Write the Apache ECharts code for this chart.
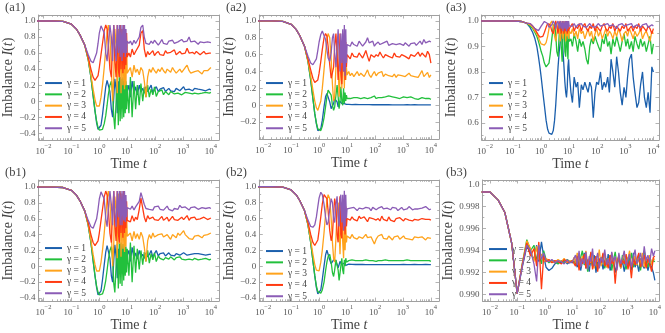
<!DOCTYPE html>
<html>
<head>
<meta charset="utf-8">
<script src="https://cdn.jsdelivr.net/npm/echarts@6/dist/echarts.min.js"></script>
<style>
html, body { margin: 0; padding: 0; background: #fff; }
#chart { width: 665px; height: 333px; }
</style>
</head>
<body>
<div id="chart"></div>
<script>
// legend names and colours, gamma = 1..5
const gammaNames = ['γ = 1', 'γ = 2', 'γ = 3', 'γ = 4', 'γ = 5'];
const lineColors = ['#1b5fac', '#22c03c', '#ffa31c', '#ff3b12', '#8b5cb6'];

// axis tick labels
const xTicks = [0.01, 0.1, 1, 10, 100, 1000, 10000];
const yTicksWide = [-0.4, -0.2, 0, 0.2, 0.4, 0.6, 0.8, 1.0];
const yTicksA2 = [-0.2, 0, 0.2, 0.4, 0.6, 0.8, 1.0];
const yTicksA3 = [0.6, 0.7, 0.8, 0.9, 1.0];
const yTicksB3 = [0.990, 0.992, 0.994, 0.996, 0.998, 1.0];

// time grids
const tMain = [0.005, 0.02, 0.05, 0.1, 0.15, 0.2, 0.3,
  0.4, 0.5, 0.6, 0.7, 0.8, 0.9, 1.0, 1.15, 1.3, 1.5, 1.7, 1.9, 2.1, 2.4, 2.7, 3.0,
  3.3, 3.6, 4.0, 4.4, 4.8, 5.2, 5.6, 6.0, 6.5, 7.0, 7.5, 8.0, 8.5, 9.0, 9.5, 10];
const tLate = [11.5, 13, 15, 17.5, 20, 23, 27, 31, 36, 41, 47, 54, 62, 72, 83, 95, 110,
  130, 150, 175, 200, 235, 270, 310, 360, 420, 490, 570, 660, 770, 900, 1050, 1200,
  1400, 1650, 1900, 2200, 2600, 3000, 3500, 4100, 4800, 5600, 6500, 7600, 8800, 10000];
const tB3 = [0.005, 0.01, 0.02, 0.035, 0.062, 0.098,
  0.15, 0.22, 0.3, 0.4, 0.5, 0.6, 0.75, 0.9, 1.1, 1.4, 1.8, 2.3, 3, 4, 5, 6.5, 8, 10];

// ---- (a1) ----
const a1g1 = [1.0, 1.0, 0.995, 0.96, 0.9, 0.83, 0.7,
  0.52, 0.3, 0.07, -0.12, -0.27, -0.35, -0.37, -0.3, -0.17, 0.02, 0.18, 0.26,
  0.27, 0.12, -0.1, -0.2, 0.05, 0.28, 0.15, -0.15, 0.25, -0.1, 0.3, -0.05,
  0.28, 0.0, 0.25, 0.05, 0.22, 0.05, 0.2, 0.12,
  0.2, 0.05, 0.25, 0.1, 0.18, 0.08, 0.2, 0.12, 0.16, 0.1,
  0.18, 0.12, 0.14, 0.2, 0.1, 0.15, 0.18, 0.12, 0.15, 0.13,
  0.17, 0.12, 0.14, 0.16, 0.13, 0.15, 0.12, 0.16, 0.14, 0.13,
  0.15, 0.18, 0.14, 0.12, 0.15, 0.14, 0.13, 0.16, 0.14, 0.15,
  0.13, 0.14, 0.15, 0.13, 0.14, 0.15, 0.14];
const a1g2 = [1.0, 1.0, 0.995, 0.96, 0.9, 0.83, 0.7,
  0.52, 0.3, 0.07, -0.12, -0.25, -0.33, -0.36, -0.37, -0.35, -0.28, -0.18, -0.05,
  0.08, 0.2, 0.25, 0.1, -0.2, -0.35, 0.0, 0.28, -0.3, 0.3, -0.25, 0.28,
  -0.22, 0.3, -0.2, 0.28, -0.15, 0.25, -0.1, 0.2,
  -0.15, 0.3, -0.2, 0.25, -0.1, 0.2, -0.05, 0.22, 0.0, 0.18,
  0.05, 0.2, 0.05, 0.15, 0.08, 0.18, 0.06, 0.12, 0.1, 0.14,
  0.08, 0.12, 0.1, 0.08, 0.12, 0.1, 0.09, 0.11, 0.1, 0.12,
  0.08, 0.1, 0.11, 0.09, 0.1, 0.12, 0.09, 0.1, 0.11, 0.09,
  0.1, 0.1, 0.09, 0.11, 0.1, 0.1, 0.11];
const a1g3 = [1.0, 1.0, 0.995, 0.96, 0.9, 0.83, 0.7,
  0.53, 0.33, 0.15, 0.02, -0.06, -0.08, -0.06, 0.05, 0.2, 0.42, 0.65, 0.85,
  0.95, 0.8, 0.4, 0.0, 0.3, 0.9, 0.7, 0.1, 0.9, 0.3, 0.95, 0.1,
  0.9, 0.2, 0.9, 0.15, 0.85, 0.2, 0.75, 0.35,
  0.35, 0.42, 0.3, 0.45, 0.36, 0.4, 0.33, 0.42, 0.38, 0.25,
  0.05, 0.3, 0.4, 0.36, 0.42, 0.38, 0.35, 0.4, 0.37, 0.42,
  0.38, 0.35, 0.4, 0.38, 0.36, 0.42, 0.38, 0.35, 0.37, 0.4,
  0.36, 0.38, 0.42, 0.45, 0.38, 0.35, 0.33, 0.37, 0.35, 0.38,
  0.36, 0.34, 0.38, 0.36, 0.38, 0.37, 0.42];
const a1g4 = [1.0, 1.0, 0.995, 0.96, 0.9, 0.83, 0.7,
  0.55, 0.4, 0.3, 0.26, 0.26, 0.32, 0.42, 0.58, 0.72, 0.88, 0.95, 0.9,
  0.7, 0.4, 0.3, 0.7, 0.95, 0.5, 0.3, 0.95, 0.4, 0.3, 0.95, 0.4,
  0.9, 0.35, 0.95, 0.4, 0.9, 0.45, 0.85, 0.55,
  0.6, 0.55, 0.65, 0.58, 0.62, 0.6, 0.7, 0.85, 0.88, 0.65,
  0.55, 0.62, 0.58, 0.6, 0.63, 0.57, 0.6, 0.62, 0.58, 0.6,
  0.57, 0.63, 0.6, 0.58, 0.61, 0.6, 0.64, 0.58, 0.6, 0.62,
  0.59, 0.57, 0.6, 0.66, 0.6, 0.58, 0.61, 0.59, 0.62, 0.6,
  0.58, 0.6, 0.62, 0.59, 0.61, 0.6, 0.6];
const a1g5 = [1.0, 1.0, 0.995, 0.96, 0.9, 0.83, 0.7,
  0.58, 0.5, 0.48, 0.5, 0.6, 0.72, 0.85, 0.94, 0.95, 0.85, 0.6, 0.5,
  0.7, 0.95, 0.8, 0.5, 0.95, 0.7, 0.5, 0.95, 0.6, 0.95, 0.55, 0.95,
  0.5, 0.95, 0.6, 0.95, 0.55, 0.9, 0.6, 0.75,
  0.72, 0.75, 0.7, 0.76, 0.72, 0.74, 0.8, 0.92, 0.95, 0.8,
  0.72, 0.74, 0.71, 0.75, 0.72, 0.76, 0.74, 0.7, 0.73, 0.77,
  0.72, 0.74, 0.71, 0.75, 0.73, 0.76, 0.72, 0.7, 0.74, 0.73,
  0.77, 0.74, 0.72, 0.75, 0.8, 0.74, 0.72, 0.75, 0.73, 0.71,
  0.74, 0.72, 0.73, 0.71, 0.74, 0.72, 0.73];

// ---- (a2) ----
const a2g1 = [1.0, 1.0, 0.995, 0.96, 0.9, 0.83, 0.7,
  0.52, 0.3, 0.08, -0.1, -0.22, -0.3, -0.32, -0.28, -0.18, -0.02, 0.1, 0.14,
  0.12, 0.04, -0.04, -0.05, 0.02, 0.08, 0.1, 0.04, -0.02, 0.0, 0.05, 0.06,
  0.02, 0.0, 0.03, 0.02, 0.0, 0.02, 0.01, 0.01,
  0.01, 0.012, 0.008, 0.01, 0.009, 0.01, 0.008, 0.01, 0.007, 0.009,
  0.008, 0.008, 0.007, 0.008, 0.006, 0.007, 0.008, 0.006, 0.007, 0.006,
  0.007, 0.006, 0.005, 0.006, 0.007, 0.005, 0.006, 0.005, 0.006, 0.005,
  0.006, 0.005, 0.005, 0.006, 0.005, 0.004, 0.005, 0.006, 0.005, 0.004,
  0.005, 0.004, 0.005, 0.005, 0.004, 0.005, 0.005];
const a2g2 = [1.0, 1.0, 0.995, 0.96, 0.9, 0.83, 0.7,
  0.52, 0.3, 0.08, -0.1, -0.21, -0.28, -0.3, -0.3, -0.25, -0.15, -0.02, 0.1,
  0.18, 0.2, 0.12, 0.0, -0.06, -0.02, 0.12, 0.24, 0.1, -0.04, 0.05, 0.22,
  0.05, 0.0, 0.2, 0.02, 0.15, 0.05, 0.12, 0.08,
  0.1, 0.08, 0.1, 0.09, 0.11, 0.09, 0.1, 0.08, 0.1, 0.09,
  0.1, 0.08, 0.1, 0.09, 0.1, 0.11, 0.08, 0.09, 0.1, 0.09,
  0.08, 0.1, 0.09, 0.11, 0.09, 0.1, 0.08, 0.09, 0.1, 0.08,
  0.09, 0.1, 0.08, 0.09, 0.08, 0.1, 0.09, 0.08, 0.09, 0.07,
  0.08, 0.09, 0.07, 0.08, 0.07, 0.08, 0.07];
const a2g3 = [1.0, 1.0, 0.995, 0.96, 0.9, 0.83, 0.7,
  0.53, 0.35, 0.18, 0.05, -0.03, -0.06, -0.05, 0.05, 0.2, 0.42, 0.62, 0.78,
  0.85, 0.8, 0.55, 0.25, 0.05, 0.1, 0.45, 0.75, 0.5, 0.1, 0.3, 0.7,
  0.2, 0.5, 0.65, 0.2, 0.55, 0.3, 0.45, 0.36,
  0.4, 0.35, 0.38, 0.34, 0.37, 0.4, 0.35, 0.38, 0.36, 0.34,
  0.38, 0.42, 0.36, 0.33, 0.37, 0.4, 0.35, 0.38, 0.36, 0.4,
  0.34, 0.37, 0.39, 0.35, 0.36, 0.34, 0.37, 0.33, 0.36, 0.38,
  0.35, 0.37, 0.34, 0.36, 0.38, 0.35, 0.37, 0.34, 0.36, 0.33,
  0.37, 0.41, 0.34, 0.36, 0.39, 0.33, 0.36];
const a2g4 = [1.0, 1.0, 0.995, 0.96, 0.9, 0.83, 0.7,
  0.55, 0.42, 0.32, 0.27, 0.26, 0.3, 0.38, 0.52, 0.66, 0.8, 0.85, 0.82,
  0.7, 0.48, 0.32, 0.3, 0.45, 0.7, 0.85, 0.6, 0.3, 0.5, 0.85, 0.4,
  0.25, 0.8, 0.4, 0.85, 0.3, 0.75, 0.45, 0.6,
  0.6, 0.55, 0.62, 0.58, 0.6, 0.57, 0.62, 0.59, 0.56, 0.6,
  0.65, 0.58, 0.52, 0.6, 0.62, 0.57, 0.6, 0.58, 0.63, 0.59,
  0.56, 0.6, 0.62, 0.58, 0.6, 0.56, 0.62, 0.58, 0.6, 0.57,
  0.6, 0.62, 0.58, 0.6, 0.55, 0.6, 0.62, 0.58, 0.6, 0.63,
  0.58, 0.62, 0.6, 0.57, 0.64, 0.6, 0.5];
const a2g5 = [1.0, 1.0, 0.995, 0.96, 0.9, 0.83, 0.7,
  0.58, 0.5, 0.48, 0.49, 0.55, 0.65, 0.75, 0.84, 0.88, 0.86, 0.78, 0.66,
  0.56, 0.52, 0.62, 0.8, 0.85, 0.62, 0.45, 0.7, 0.9, 0.6, 0.4, 0.85,
  0.5, 0.9, 0.4, 0.95, 0.35, 0.9, 0.5, 0.72,
  0.72, 0.7, 0.75, 0.72, 0.74, 0.7, 0.76, 0.73, 0.7, 0.72,
  0.75, 0.8, 0.74, 0.72, 0.76, 0.7, 0.73, 0.75, 0.72, 0.7,
  0.74, 0.73, 0.76, 0.71, 0.7, 0.73, 0.75, 0.72, 0.7, 0.73,
  0.72, 0.71, 0.74, 0.72, 0.7, 0.73, 0.72, 0.74, 0.71, 0.73,
  0.76, 0.72, 0.78, 0.74, 0.72, 0.76, 0.75];

// ---- (a3) ----
const a3g1 = [1.0, 1.0, 1.0, 1.0, 0.999, 0.998, 0.992,
  0.975, 0.955, 0.93, 0.9, 0.86, 0.82, 0.78, 0.72, 0.67, 0.61, 0.575, 0.56,
  0.555, 0.555, 0.57, 0.61, 0.67, 0.74, 0.82, 0.88, 0.92, 0.95, 0.93, 0.88,
  0.82, 0.76, 0.72, 0.7, 0.74, 0.82, 0.85, 0.8,
  0.72, 0.68, 0.78, 0.74, 0.76, 0.66, 0.75, 0.73, 0.76, 0.74,
  0.72, 0.76, 0.74, 0.62, 0.72, 0.76, 0.75, 0.8, 0.73, 0.76,
  0.74, 0.78, 0.72, 0.85, 0.8, 0.74, 0.86, 0.8, 0.72, 0.67,
  0.74, 0.7, 0.78, 0.85, 0.87, 0.78, 0.72, 0.66, 0.68, 0.75,
  0.8, 0.7, 0.66, 0.72, 0.64, 0.82, 0.8];
const a3g2 = [1.0, 1.0, 1.0, 1.0, 0.999, 0.998, 0.992,
  0.98, 0.97, 0.955, 0.94, 0.92, 0.9, 0.88, 0.86, 0.835, 0.82, 0.82, 0.835,
  0.87, 0.93, 0.98, 0.99, 0.95, 0.88, 0.86, 0.95, 0.99, 0.9, 0.84, 0.95,
  0.99, 0.88, 0.86, 0.98, 0.9, 0.85, 0.97, 0.92,
  0.93, 0.9, 0.95, 0.92, 0.88, 0.93, 0.9, 0.92, 0.89, 0.85,
  0.83, 0.9, 0.93, 0.91, 0.94, 0.92, 0.9, 0.88, 0.93, 0.91,
  0.95, 0.9, 0.92, 0.87, 0.93, 0.9, 0.94, 0.91, 0.88, 0.92,
  0.95, 0.9, 0.93, 0.89, 0.92, 0.88, 0.94, 0.91, 0.89, 0.93,
  0.9, 0.92, 0.88, 0.91, 0.94, 0.87, 0.91];
const a3g3 = [1.0, 1.0, 1.0, 1.0, 0.999, 0.998, 0.992,
  0.985, 0.975, 0.96, 0.95, 0.935, 0.92, 0.91, 0.905, 0.905, 0.915, 0.94, 0.97,
  0.99, 1.0, 0.98, 0.94, 0.92, 0.95, 0.99, 0.97, 0.92, 0.96, 1.0, 0.93,
  0.97, 1.0, 0.92, 0.99, 0.94, 1.0, 0.93, 0.96,
  0.95, 0.97, 0.94, 0.96, 0.93, 0.97, 0.95, 0.96, 0.93, 0.95,
  0.97, 0.94, 0.96, 0.92, 0.95, 0.97, 0.94, 0.96, 0.93, 0.95,
  0.97, 0.94, 0.96, 0.95, 0.93, 0.96, 0.94, 0.97, 0.95, 0.92,
  0.95, 0.96, 0.94, 0.97, 0.95, 0.93, 0.96, 0.94, 0.95, 0.97,
  0.93, 0.95, 0.96, 0.94, 0.92, 0.96, 0.95];
const a3g4 = [1.0, 1.0, 1.0, 1.0, 0.999, 0.998, 0.992,
  0.99, 0.98, 0.97, 0.955, 0.945, 0.937, 0.935, 0.94, 0.955, 0.975, 0.99, 0.995,
  0.985, 0.96, 0.95, 0.975, 1.0, 0.98, 0.95, 0.99, 1.0, 0.95, 0.98, 1.0,
  0.95, 0.99, 0.96, 1.0, 0.95, 0.99, 0.96, 0.97,
  0.97, 0.99, 0.96, 0.98, 0.97, 0.99, 0.96, 0.98, 0.99, 0.97,
  0.96, 0.98, 0.97, 0.99, 0.96, 0.98, 0.97, 0.96, 0.98, 0.99,
  0.97, 0.96, 0.98, 0.97, 0.99, 0.96, 0.98, 0.97, 0.96, 0.98,
  0.97, 0.99, 0.96, 0.97, 0.98, 0.96, 0.98, 0.97, 0.99, 0.96,
  0.98, 0.97, 0.96, 0.98, 0.97, 0.95, 0.97];
const a3g5 = [1.0, 1.0, 1.0, 1.0, 0.999, 0.998, 0.992,
  0.99, 0.98, 0.97, 0.963, 0.962, 0.968, 0.98, 0.99, 0.998, 1.0, 0.99, 0.975,
  0.97, 0.985, 1.0, 0.99, 0.97, 0.99, 1.0, 0.97, 1.0, 0.97, 1.0, 0.96,
  1.0, 0.97, 1.0, 0.96, 1.0, 0.97, 1.0, 0.98,
  0.985, 0.98, 0.99, 0.975, 0.985, 0.98, 0.99, 0.98, 0.985, 0.975,
  0.98, 0.99, 0.98, 0.985, 0.975, 0.98, 0.99, 0.98, 0.975, 0.985,
  0.98, 0.99, 0.98, 0.975, 0.985, 0.98, 0.97, 0.985, 0.98, 0.99,
  0.98, 0.975, 0.985, 0.98, 0.99, 0.975, 0.98, 0.985, 0.98, 0.975,
  0.985, 0.98, 0.99, 0.975, 0.98, 0.985, 0.98];

// ---- (b1) ----
const b1g1 = [1.0, 1.0, 0.995, 0.96, 0.9, 0.83, 0.7,
  0.52, 0.3, 0.07, -0.12, -0.27, -0.36, -0.38, -0.31, -0.17, 0.02, 0.18, 0.26,
  0.26, 0.1, -0.12, -0.2, 0.08, 0.27, 0.12, -0.15, 0.22, -0.08, 0.28, -0.02,
  0.26, 0.02, 0.22, 0.06, 0.2, 0.08, 0.18, 0.14,
  0.2, 0.06, 0.24, 0.1, 0.17, 0.09, 0.2, 0.12, 0.15, 0.1,
  0.17, 0.12, 0.15, 0.2, 0.11, 0.16, 0.2, 0.13, 0.16, 0.14,
  0.17, 0.13, 0.15, 0.17, 0.14, 0.16, 0.13, 0.16, 0.15, 0.14,
  0.16, 0.17, 0.15, 0.14, 0.16, 0.15, 0.14, 0.16, 0.15, 0.16,
  0.14, 0.15, 0.16, 0.14, 0.15, 0.15, 0.15];
const b1g2 = [1.0, 1.0, 0.995, 0.96, 0.9, 0.83, 0.7,
  0.52, 0.3, 0.07, -0.12, -0.25, -0.33, -0.36, -0.37, -0.35, -0.28, -0.18, -0.05,
  0.08, 0.2, 0.25, 0.08, -0.22, -0.33, 0.02, 0.28, -0.28, 0.3, -0.22, 0.3,
  -0.25, 0.28, -0.18, 0.3, -0.12, 0.25, -0.08, 0.22,
  -0.12, 0.3, -0.2, 0.26, -0.08, 0.22, -0.04, 0.2, 0.02, 0.18,
  0.06, 0.2, 0.04, 0.16, 0.08, 0.17, 0.06, 0.13, 0.1, 0.12,
  0.08, 0.11, 0.1, 0.09, 0.12, 0.1, 0.08, 0.11, 0.1, 0.12,
  0.09, 0.1, 0.08, 0.1, 0.09, 0.11, 0.08, 0.1, 0.09, 0.08,
  0.1, 0.09, 0.08, 0.1, 0.09, 0.08, 0.09];
const b1g3 = [1.0, 1.0, 0.995, 0.96, 0.9, 0.83, 0.7,
  0.53, 0.33, 0.15, 0.02, -0.06, -0.08, -0.06, 0.05, 0.2, 0.42, 0.65, 0.85,
  0.95, 0.82, 0.42, 0.0, 0.28, 0.88, 0.72, 0.1, 0.92, 0.28, 0.95, 0.12,
  0.88, 0.22, 0.9, 0.18, 0.82, 0.25, 0.72, 0.38,
  0.36, 0.42, 0.32, 0.44, 0.35, 0.41, 0.34, 0.43, 0.37, 0.24,
  0.06, 0.32, 0.4, 0.35, 0.42, 0.37, 0.36, 0.4, 0.38, 0.41,
  0.37, 0.35, 0.4, 0.37, 0.34, 0.4, 0.38, 0.36, 0.42, 0.39,
  0.37, 0.45, 0.4, 0.38, 0.35, 0.37, 0.34, 0.38, 0.36, 0.39,
  0.37, 0.36, 0.39, 0.38, 0.4, 0.41, 0.42];
const b1g4 = [1.0, 1.0, 0.995, 0.96, 0.9, 0.83, 0.7,
  0.55, 0.4, 0.3, 0.26, 0.26, 0.32, 0.42, 0.58, 0.72, 0.88, 0.95, 0.9,
  0.72, 0.42, 0.3, 0.68, 0.95, 0.52, 0.32, 0.95, 0.42, 0.3, 0.93, 0.42,
  0.92, 0.36, 0.95, 0.42, 0.88, 0.48, 0.82, 0.58,
  0.6, 0.56, 0.64, 0.57, 0.62, 0.59, 0.72, 0.86, 0.88, 0.62,
  0.56, 0.64, 0.6, 0.58, 0.62, 0.59, 0.61, 0.58, 0.6, 0.63,
  0.58, 0.6, 0.62, 0.57, 0.6, 0.63, 0.59, 0.61, 0.58, 0.6,
  0.62, 0.59, 0.6, 0.64, 0.58, 0.61, 0.6, 0.62, 0.59, 0.61,
  0.6, 0.58, 0.62, 0.6, 0.59, 0.61, 0.61];
const b1g5 = [1.0, 1.0, 0.995, 0.96, 0.9, 0.83, 0.7,
  0.58, 0.5, 0.48, 0.5, 0.6, 0.72, 0.85, 0.94, 0.95, 0.85, 0.6, 0.5,
  0.72, 0.95, 0.78, 0.52, 0.95, 0.68, 0.5, 0.95, 0.62, 0.95, 0.52, 0.95,
  0.52, 0.95, 0.58, 0.95, 0.56, 0.9, 0.62, 0.74,
  0.74, 0.72, 0.76, 0.71, 0.75, 0.73, 0.82, 0.93, 0.94, 0.78,
  0.73, 0.75, 0.72, 0.74, 0.71, 0.75, 0.73, 0.76, 0.72, 0.74,
  0.71, 0.73, 0.76, 0.72, 0.74, 0.7, 0.73, 0.75, 0.72, 0.77,
  0.74, 0.72, 0.75, 0.73, 0.71, 0.74, 0.72, 0.75, 0.73, 0.72,
  0.7, 0.74, 0.72, 0.73, 0.71, 0.74, 0.73];

// ---- (b2) ----
const b2g1 = [1.0, 1.0, 0.995, 0.96, 0.9, 0.83, 0.7,
  0.52, 0.3, 0.07, -0.12, -0.27, -0.35, -0.36, -0.3, -0.17, 0.0, 0.14, 0.2,
  0.18, 0.08, 0.03, 0.04, 0.08, 0.1, 0.07, 0.02, -0.02, 0.02, 0.06, 0.05,
  0.02, 0.0, 0.03, 0.04, 0.02, 0.01, 0.02, 0.02,
  0.025, 0.02, 0.022, 0.02, 0.021, 0.02, 0.022, 0.02, 0.021, 0.02,
  0.02, 0.021, 0.02, 0.019, 0.02, 0.021, 0.02, 0.02, 0.019, 0.02,
  0.021, 0.02, 0.02, 0.019, 0.02, 0.02, 0.021, 0.02, 0.019, 0.02,
  0.02, 0.021, 0.02, 0.02, 0.019, 0.02, 0.02, 0.021, 0.02, 0.02,
  0.019, 0.02, 0.02, 0.021, 0.02, 0.02, 0.02];
const b2g2 = [1.0, 1.0, 0.995, 0.96, 0.9, 0.83, 0.7,
  0.52, 0.3, 0.07, -0.12, -0.25, -0.32, -0.34, -0.34, -0.3, -0.2, -0.06, 0.05,
  0.12, 0.15, 0.05, -0.08, -0.13, -0.05, 0.08, 0.1, -0.05, -0.18, -0.2, 0.0,
  0.1, -0.05, -0.1, 0.08, 0.0, 0.1, 0.05, 0.07,
  0.07, 0.06, 0.08, 0.06, 0.07, 0.06, 0.07, 0.05, 0.07, 0.06,
  0.08, 0.06, 0.07, 0.06, 0.07, 0.08, 0.06, 0.07, 0.06, 0.07,
  0.06, 0.08, 0.06, 0.07, 0.06, 0.07, 0.05, 0.07, 0.06, 0.07,
  0.06, 0.07, 0.06, 0.08, 0.06, 0.07, 0.06, 0.07, 0.06, 0.07,
  0.06, 0.07, 0.06, 0.07, 0.06, 0.07, 0.06];
const b2g3 = [1.0, 1.0, 0.995, 0.96, 0.9, 0.83, 0.7,
  0.53, 0.33, 0.15, 0.02, -0.05, -0.07, -0.06, 0.05, 0.2, 0.42, 0.65, 0.82,
  0.9, 0.85, 0.6, 0.3, 0.1, 0.05, 0.35, 0.7, 0.8, 0.45, 0.15, 0.5,
  0.8, 0.3, 0.1, 0.6, 0.2, 0.5, 0.3, 0.38,
  0.38, 0.35, 0.4, 0.36, 0.38, 0.34, 0.37, 0.39, 0.35, 0.37,
  0.4, 0.36, 0.34, 0.37, 0.35, 0.28, 0.34, 0.38, 0.36, 0.4,
  0.35, 0.37, 0.34, 0.38, 0.36, 0.33, 0.37, 0.35, 0.38, 0.34,
  0.36, 0.38, 0.35, 0.37, 0.34, 0.36, 0.33, 0.37, 0.35, 0.36,
  0.34, 0.37, 0.35, 0.33, 0.36, 0.34, 0.35];
const b2g4 = [1.0, 1.0, 0.995, 0.96, 0.9, 0.83, 0.7,
  0.55, 0.4, 0.3, 0.26, 0.27, 0.33, 0.45, 0.62, 0.78, 0.9, 0.92, 0.85,
  0.7, 0.45, 0.32, 0.4, 0.65, 0.85, 0.75, 0.4, 0.3, 0.7, 0.88, 0.4,
  0.35, 0.85, 0.45, 0.8, 0.4, 0.75, 0.5, 0.6,
  0.6, 0.58, 0.62, 0.59, 0.6, 0.57, 0.63, 0.6, 0.58, 0.62,
  0.6, 0.56, 0.61, 0.59, 0.6, 0.62, 0.58, 0.6, 0.57, 0.63,
  0.59, 0.6, 0.57, 0.62, 0.58, 0.6, 0.56, 0.6, 0.58, 0.61,
  0.59, 0.57, 0.6, 0.62, 0.58, 0.6, 0.57, 0.59, 0.6, 0.58,
  0.57, 0.6, 0.58, 0.59, 0.57, 0.59, 0.58];
const b2g5 = [1.0, 1.0, 0.995, 0.96, 0.9, 0.83, 0.7,
  0.58, 0.5, 0.49, 0.52, 0.62, 0.75, 0.86, 0.93, 0.9, 0.78, 0.62, 0.52,
  0.55, 0.72, 0.85, 0.8, 0.6, 0.55, 0.78, 0.88, 0.62, 0.5, 0.82, 0.9,
  0.55, 0.9, 0.45, 0.95, 0.5, 0.9, 0.6, 0.72,
  0.72, 0.73, 0.71, 0.74, 0.72, 0.7, 0.73, 0.75, 0.72, 0.71,
  0.74, 0.72, 0.73, 0.7, 0.74, 0.72, 0.71, 0.73, 0.72, 0.75,
  0.72, 0.7, 0.73, 0.72, 0.71, 0.74, 0.72, 0.73, 0.7, 0.72,
  0.74, 0.71, 0.73, 0.72, 0.75, 0.73, 0.71, 0.72, 0.74, 0.72,
  0.71, 0.73, 0.72, 0.75, 0.73, 0.71, 0.72];

// ---- (b3) ----
const b3g1 = [0.99934, 0.99934, 0.9986, 0.99747, 0.99468, 0.9901,
  0.9925, 0.9944, 0.9938, 0.9932, 0.9945, 0.9930, 0.9948, 0.9935, 0.9925,
  0.9922, 0.9924, 0.9928, 0.9930, 0.9929, 0.9931, 0.9928, 0.9930, 0.9929,
  0.9928, 0.9931, 0.9925, 0.9935, 0.9922, 0.9930, 0.9938, 0.9924, 0.9929, 0.9921,
  0.9933, 0.9926, 0.9936, 0.9920, 0.9930, 0.9927, 0.9934, 0.9923, 0.9931, 0.9925,
  0.9937, 0.9922, 0.9929, 0.9933, 0.9920, 0.9928, 0.9935, 0.9924, 0.9931, 0.9921,
  0.9930, 0.9926, 0.9934, 0.9922, 0.9938, 0.9925, 0.9930, 0.9921, 0.9933, 0.9927,
  0.9924, 0.9932, 0.9922, 0.9929, 0.9925, 0.9920, 0.9913];
const b3g2 = [0.99934, 0.99934, 0.9986, 0.99747, 0.99468, 0.9901,
  0.9928, 0.9950, 0.9940, 0.9945, 0.9932, 0.9938, 0.9928, 0.9940, 0.9932,
  0.9929, 0.9931, 0.9930, 0.9928, 0.9931, 0.9929, 0.9932, 0.9930, 0.9931,
  0.9932, 0.9928, 0.9936, 0.9925, 0.9934, 0.9940, 0.9927, 0.9933, 0.9921, 0.9931,
  0.9938, 0.9926, 0.9930, 0.9935, 0.9923, 0.9932, 0.9928, 0.9937, 0.9924, 0.9933,
  0.9929, 0.9936, 0.9922, 0.9931, 0.9939, 0.9927, 0.9933, 0.9925, 0.9936, 0.9930,
  0.9923, 0.9934, 0.9928, 0.9938, 0.9925, 0.9931, 0.9927, 0.9936, 0.9922, 0.9933,
  0.9940, 0.9929, 0.9925, 0.9935, 0.9928, 0.9931, 0.9930];
const b3g3 = [0.99934, 0.99934, 0.9986, 0.99747, 0.99468, 0.9901,
  0.9928, 0.9949, 0.9942, 0.9930, 0.9944, 0.9932, 0.9937, 0.9930, 0.9933,
  0.9931, 0.9930, 0.9929, 0.9932, 0.9930, 0.9933, 0.9929, 0.9931, 0.9930,
  0.9934, 0.9929, 0.9938, 0.9931, 0.9926, 0.9935, 0.9930, 0.9940, 0.9927, 0.9933,
  0.9929, 0.9936, 0.9924, 0.9934, 0.9930, 0.9941, 0.9926, 0.9932, 0.9937, 0.9925,
  0.9933, 0.9929, 0.9938, 0.9927, 0.9934, 0.9930, 0.9936, 0.9924, 0.9932, 0.9937,
  0.9928, 0.9933, 0.9940, 0.9926, 0.9931, 0.9935, 0.9927, 0.9933, 0.9929, 0.9938,
  0.9925, 0.9934, 0.9929, 0.9936, 0.9927, 0.9933, 0.9932];
const b3g4 = [0.99934, 0.99934, 0.9986, 0.99747, 0.99468, 0.9901,
  0.9927, 0.9947, 0.9935, 0.9942, 0.9926, 0.9948, 0.9905, 0.9935, 0.9930,
  0.9932, 0.9929, 0.9931, 0.9930, 0.9928, 0.9932, 0.9930, 0.9929, 0.9931,
  0.9931, 0.9926, 0.9935, 0.9922, 0.9933, 0.9928, 0.9937, 0.9924, 0.9932, 0.9927,
  0.9939, 0.9923, 0.9930, 0.9935, 0.9921, 0.9933, 0.9929, 0.9938, 0.9926, 0.9931,
  0.9924, 0.9936, 0.9928, 0.9933, 0.9910, 0.9930, 0.9935, 0.9925, 0.9932, 0.9928,
  0.9937, 0.9923, 0.9931, 0.9915, 0.9934, 0.9927, 0.9932, 0.9938, 0.9925, 0.9930,
  0.9936, 0.9924, 0.9933, 0.9928, 0.9921, 0.9934, 0.9935];
const b3g5 = [0.99934, 0.99934, 0.9986, 0.99747, 0.99468, 0.9901,
  0.9926, 0.9945, 0.9940, 0.9928, 0.9912, 0.9945, 0.9932, 0.9938, 0.9931,
  0.9930, 0.9932, 0.9929, 0.9931, 0.9930, 0.9928, 0.9932, 0.9929, 0.9930,
  0.9929, 0.9936, 0.9927, 0.9940, 0.9925, 0.9933, 0.9928, 0.9939, 0.9923, 0.9935,
  0.9930, 0.9942, 0.9926, 0.9931, 0.9938, 0.9924, 0.9934, 0.9929, 0.9941, 0.9927,
  0.9933, 0.9925, 0.9939, 0.9930, 0.9935, 0.9922, 0.9938, 0.9928, 0.9933, 0.9940,
  0.9926, 0.9932, 0.9937, 0.9925, 0.9934, 0.9941, 0.9928, 0.9932, 0.9938, 0.9926,
  0.9944, 0.9931, 0.9936, 0.9929, 0.9942, 0.9935, 0.9940];

const tFull = tMain.concat(tLate);
const tFullB3 = tB3.concat(tLate);

// panel layout (pixels) and ranges
const panels = [
  { tag: '(a1)', box: [38.5, 15, 180.5, 125], xe: [-2.18, 4.29], yr: [-0.484, 1.075], yt: yTicksWide, lg: [45, 77.4, 17], lab: [5, 1], ng: 23, t: tFull, v: [a1g1, a1g2, a1g3, a1g4, a1g5] },
  { tag: '(a2)', box: [259.3, 15, 179.7, 124], xe: [-2.14, 4.29], yr: [-0.40, 1.07], yt: yTicksA2, lg: [266, 77.4, 17], lab: [226, 1], ng: 23, t: tFull, v: [a2g1, a2g2, a2g3, a2g4, a2g5] },
  { tag: '(a3)', box: [481.7, 15, 177.3, 125], xe: [-2.12, 4.2], yr: [0.533, 1.0235], yt: yTicksA3, lg: [489, 77.4, 14], lab: [446, 1], ng: 23, t: tFull, v: [a3g1, a3g2, a3g3, a3g4, a3g5] },
  { tag: '(b1)', box: [38.5, 180, 180.5, 125.5], xe: [-2.18, 4.29], yr: [-0.44, 1.09], yt: yTicksWide, lg: [45, 242.4, 17], lab: [5, 166], ng: 23, t: tFull, v: [b1g1, b1g2, b1g3, b1g4, b1g5] },
  { tag: '(b2)', box: [259.3, 180, 179.7, 125], xe: [-2.14, 4.29], yr: [-0.44, 1.085], yt: yTicksWide, lg: [266, 245.4, 17], lab: [226, 166], ng: 23, t: tFull, v: [b2g1, b2g2, b2g3, b2g4, b2g5] },
  { tag: '(b3)', box: [482.5, 180, 176.5, 127.5], xe: [-2.27, 4.15], yr: [0.98942, 1.00043], yt: yTicksB3, lg: [489, 243.4, 18], lab: [446, 166], ng: 26, t: tFullB3, v: [b3g1, b3g2, b3g3, b3g4, b3g5] }
];

const serif = '"Liberation Serif", "DejaVu Serif", serif';
const frameColor = '#a0a0a0';
const tickTextColor = '#555';
const nameColor = '#444';

const chart = echarts.init(document.getElementById('chart'), null, { renderer: 'canvas' });

function powLabel(v) {
  const e = Math.round(Math.log10(v));
  return '{b|10}{s|' + (e < 0 ? '\u2212' : '') + Math.abs(e) + '}';
}
const powRich = {
  b: { fontFamily: serif, fontSize: 9, color: tickTextColor, lineHeight: 13, verticalAlign: 'bottom' },
  s: { fontFamily: serif, fontSize: 6.5, color: tickTextColor, lineHeight: 7, verticalAlign: 'top' }
};
function numLabel(v) {
  if (Math.abs(v) < 1e-9) return '0';
  return (v < 0 ? '\u2212' : '') + Math.abs(v).toFixed(1);
}
function numLabelFine(v) {
  if (Math.abs(v - 1) < 1e-9) return '1.0';
  return v.toFixed(3);
}

function minorLog(lo, hi) {
  const out = [];
  for (let d = -3; d <= 4; d++) {
    for (let k = 2; k <= 9; k++) {
      const v = k * Math.pow(10, d);
      if (v > lo && v < hi) out.push(v);
    }
  }
  return out;
}
function minorLin(ticks, lo, hi) {
  const step = ticks[1] - ticks[0];
  const out = [];
  for (let v = ticks[0] - step / 2; v < hi; v += step) {
    if (v > lo) out.push(v);
  }
  return out;
}

const grids = [], xAxes = [], yAxes = [], legends = [], series = [], graphics = [];

panels.forEach((p, i) => {
  grids.push({ left: p.box[0], top: p.box[1], width: p.box[2], height: p.box[3], show: false });
  const xmin = Math.pow(10, p.xe[0]);
  const xmax = Math.pow(10, p.xe[1]);
  const xMinor = minorLog(xmin, xmax);
  const yMinor = minorLin(p.yt, p.yr[0], p.yr[1]);
  const fine = p.yt === yTicksB3;

  function xAx(pos, ticks, len, main, line) {
    const ax = {
      type: 'log', logBase: 10, gridIndex: i, position: pos, min: xmin, max: xmax,
      splitLine: { show: false },
      axisLine: { show: line, onZero: false, lineStyle: { color: frameColor, width: 1 } },
      axisTick: { show: true, inside: true, length: len, customValues: ticks, lineStyle: { color: frameColor, width: 0.8 } },
      axisLabel: { show: false }
    };
    if (main) {
      ax.axisLabel = { show: true, customValues: ticks, margin: 3, formatter: powLabel, rich: powRich };
      ax.name = 'Time {i|t}';
      ax.nameLocation = 'middle';
      ax.nameGap = 9;
      ax.nameTextStyle = { fontFamily: serif, fontSize: 14, color: nameColor, verticalAlign: 'top',
        rich: { i: { fontFamily: serif, fontSize: 14, fontStyle: 'italic', color: nameColor } } };
    }
    return ax;
  }
  function yAx(pos, ticks, len, main, line) {
    const ax = {
      type: 'value', gridIndex: i, position: pos, min: p.yr[0], max: p.yr[1],
      splitLine: { show: false },
      axisLine: { show: line, onZero: false, lineStyle: { color: frameColor, width: 1 } },
      axisTick: { show: true, inside: true, length: len, customValues: ticks, lineStyle: { color: frameColor, width: 0.8 } },
      axisLabel: { show: false }
    };
    if (main) {
      ax.axisLabel = { show: true, customValues: ticks, margin: 3, formatter: fine ? numLabelFine : numLabel,
        fontFamily: serif, fontSize: 9, color: tickTextColor };
      ax.name = 'Imbalance {i|I}({i|t})';
      ax.nameLocation = 'middle';
      ax.nameGap = p.ng;
      ax.nameTextStyle = { fontFamily: serif, fontSize: 14, color: nameColor,
        rich: { i: { fontFamily: serif, fontSize: 14, fontStyle: 'italic', color: nameColor } } };
    }
    return ax;
  }

  xAxes.push(xAx('bottom', xTicks, 3.5, true, true));
  xAxes.push(xAx('top', xTicks, 3.5, false, true));
  xAxes.push(xAx('bottom', xMinor, 1.8, false, false));
  xAxes.push(xAx('top', xMinor, 1.8, false, false));
  yAxes.push(yAx('left', p.yt, 3.5, true, true));
  yAxes.push(yAx('right', p.yt, 3.5, false, true));
  yAxes.push(yAx('left', yMinor, 1.8, false, false));
  yAxes.push(yAx('right', yMinor, 1.8, false, false));

  legends.push({
    data: gammaNames, orient: 'vertical', left: p.lg[0], top: p.lg[1],
    itemWidth: p.lg[2], itemHeight: 2, itemGap: 0, icon: 'rect', padding: 0, z: 1,
    selectedMode: false,
    textStyle: { fontFamily: serif, fontSize: 9.5, lineHeight: 11.3, color: '#444' }
  });

  graphics.push({
    type: 'text', left: p.lab[0], top: p.lab[1],
    style: { text: p.tag, font: '12.5px ' + serif, fill: '#444' }
  });

  p.v.forEach((vals, g) => {
    if (vals.length !== p.t.length) console.error(p.tag, g + 1, vals.length, p.t.length);
    series.push({
      type: 'line', name: gammaNames[g], xAxisIndex: 4 * i, yAxisIndex: 4 * i,
      data: p.t.map((t, k) => [t, vals[k]]),
      showSymbol: false, symbol: 'none', z: 2,
      lineStyle: { color: lineColors[g], width: 1.3 },
      itemStyle: { color: lineColors[g] },
      emphasis: { disabled: true }
    });
  });
});

chart.setOption({
  animation: false,
  backgroundColor: '#fff',
  textStyle: { fontFamily: serif },
  grid: grids,
  xAxis: xAxes,
  yAxis: yAxes,
  legend: legends,
  graphic: graphics,
  series: series
});
</script>
</body>
</html>
